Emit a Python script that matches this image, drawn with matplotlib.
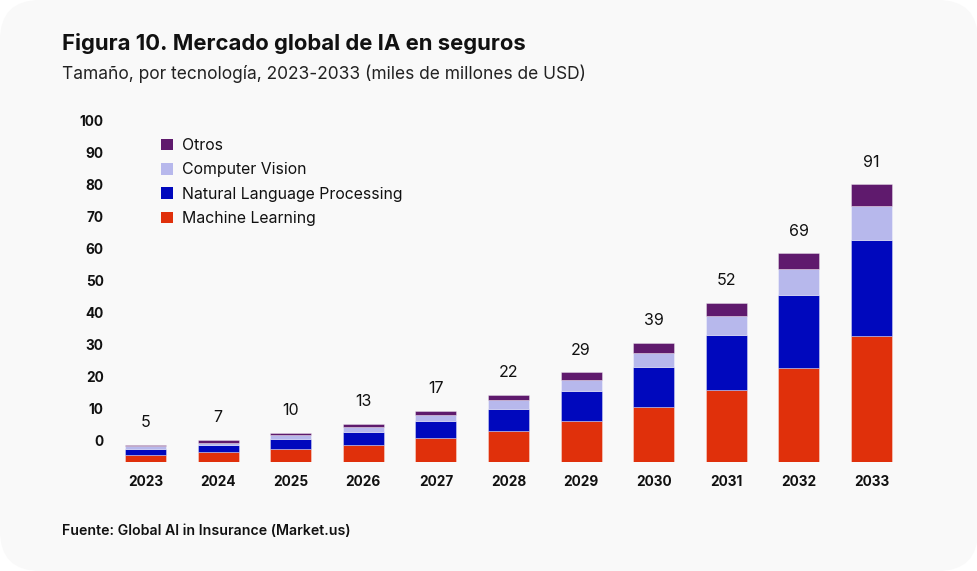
import matplotlib
matplotlib.use("Agg")
import matplotlib.pyplot as plt
from matplotlib.patches import FancyBboxPatch, Patch
from matplotlib.transforms import IdentityTransform

# ---- data ----
years = ["2023", "2024", "2025", "2026", "2027", "2028", "2029", "2030", "2031", "2032", "2033"]
machine_learning = [2.3, 3.3, 4.4, 5.7, 7.7, 10.1, 13.5, 18.0, 23.6, 30.9, 41.1]
nlp = [1.9, 2.3, 3.2, 4.2, 5.7, 7.4, 9.8, 13.1, 17.9, 23.8, 31.6]
computer_vision = [1.0, 0.75, 1.1, 1.7, 2.1, 2.7, 3.6, 4.7, 6.4, 8.4, 11.1]
otros = [0.5, 0.8, 0.9, 0.9, 1.3, 1.7, 2.4, 3.1, 4.1, 5.2, 7.1]
total_labels = [5, 7, 10, 13, 17, 22, 29, 39, 52, 69, 91]
axis_ticks = [0, 10, 20, 30, 40, 50, 60, 70, 80, 90, 100]

series_names = ["Machine Learning", "Natural Language Processing", "Computer Vision", "Otros"]
colors = ["#e0300b", "#0008bd", "#b7b8ec", "#5f1a6d"]

FONT = "Inter"
plt.rcParams["font.family"] = [FONT, "DejaVu Sans"]

W, H = 978, 571
fig = plt.figure(figsize=(W / 100, H / 100), dpi=100)
fig.patch.set_facecolor("white")
card = FancyBboxPatch((0, 0), W, H, boxstyle="round,pad=0,rounding_size=40",
                      transform=IdentityTransform(), facecolor="#f9f9f9",
                      edgecolor="none", zorder=-10)
fig.patches.append(card)

# axes in pixel layout
ax_l, ax_r, ax_b, ax_t = 110, 920, 462, 110
ax = fig.add_axes([ax_l / W, (H - ax_b) / H, (ax_r - ax_l) / W, (ax_b - ax_t) / H])
ax.set_facecolor("none")
px_per_unit = 3.055
slot = 72.6
x0 = 145.5
ax.set_xlim((ax_l - x0) / slot, (ax_r - x0) / slot)
ax.set_ylim(0, (ax_b - ax_t) / px_per_unit)

x = list(range(len(years)))
series = [machine_learning, nlp, computer_vision, otros]
bottom = [0.0] * len(years)
for vals, name, c in zip(series, series_names, colors):
    ax.bar(x, vals, bottom=bottom, width=0.565, color=c, label=name,
           edgecolor=(1, 1, 1, 0.35), linewidth=0.7, zorder=3)
    bottom = [b + v for b, v in zip(bottom, vals)]

for xi, top, lab in zip(x, bottom, total_labels):
    ax.annotate(str(lab), (xi, top), xytext=(0, 16), textcoords="offset points",
                ha="center", va="center", fontsize=11.5, color="#111111")

ax.set_xticks(x)
ax.set_xticklabels(years, fontsize=9.8, fontweight="bold", color="#111111")
ax.tick_params(axis="x", length=0, pad=9.5)
ax.set_yticks([])
for s in ax.spines.values():
    s.set_visible(False)

# decorative value axis
ax2 = ax.twinx()
ax2.yaxis.tick_left()
ax2.set_ylim((441 - ax_b) / 3.2, (441 - ax_t) / 3.2)
ax2.set_yticks(axis_ticks)
ax2.set_yticklabels([str(t) for t in axis_ticks], fontsize=9.8, fontweight="bold", color="#111111")
ax2.tick_params(axis="y", length=0, pad=4.5)
for s in ax2.spines.values():
    s.set_visible(False)

fig.legend([Patch(facecolor=c) for c in colors[::-1]], series_names[::-1],
           loc="upper left", bbox_to_anchor=(161 / W, (H - 138) / H),
           frameon=False, fontsize=11.4, handlelength=0.75, handleheight=0.75,
           handletextpad=0.6, labelspacing=0.59, borderpad=0, borderaxespad=0,
           labelcolor="#111111")

fig.text(62 / W, (H - 44) / H, "Figura 10. Mercado global de IA en seguros",
         fontsize=15.9, fontweight="bold", color="#111111", va="center", ha="left")
fig.text(62 / W, (H - 74) / H, "Tamaño, por tecnología, 2023-2033 (miles de millones de USD)",
         fontsize=12.5, color="#222222", va="center", ha="left")
fig.text(62 / W, (H - 531) / H, "Fuente: Global AI in Insurance (Market.us)",
         fontsize=10.2, fontweight="semibold", color="#111111", va="center", ha="left")

fig.savefig("out.png", dpi=100, facecolor="white")
